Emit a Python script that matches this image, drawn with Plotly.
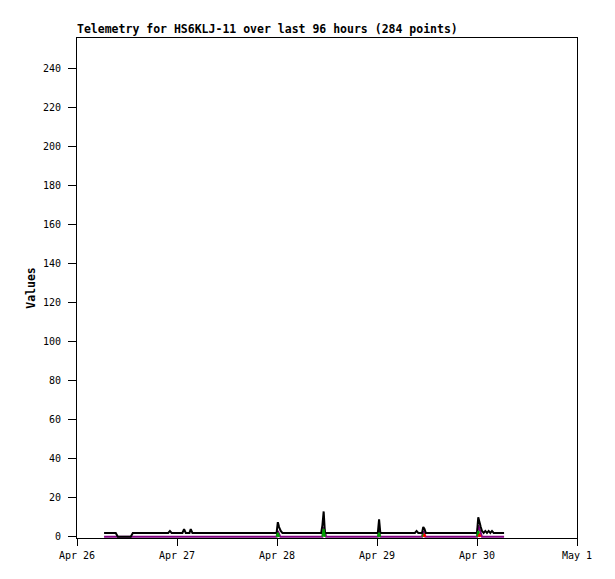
import pandas as pd
import plotly.graph_objects as go

# hours after Apr 26 00:00
black_hours = [6.5, 9.3, 9.8, 12.9, 13.4, 21.9, 22.3, 22.7, 25.3, 25.7, 26.1, 27.0, 27.3, 27.7,
               47.9, 48.2, 48.5, 48.9, 49.3, 58.6, 58.9, 59.2, 59.5, 72.2, 72.5, 72.8,
               81.1, 81.5, 81.9, 82.8, 83.1, 83.4, 83.7, 96.0, 96.3, 96.6, 96.9, 97.2, 97.6,
               98.0, 98.4, 98.8, 99.2, 99.6, 100.0, 102.5]
black_values = [2, 2, 0, 0, 2, 2, 3, 2, 2, 4, 2, 2, 4, 2,
                2, 7.5, 5, 3, 2, 2, 6, 13, 2, 2, 9, 2,
                2, 3, 2, 2, 5, 4, 2, 2, 10, 7, 5, 3, 2,
                3, 2, 3, 2, 3, 2, 2]

# green and red only show up around the spikes (None = gap)
green_hours = [47.9, 48.2, 48.5, None, 58.9, 59.2, 59.5, None, 72.2, 72.5, 72.8, None,
               82.8, 83.1, 83.4, None, 96.0, 96.3, 96.6]
green_values = [0, 2, 0, None, 0, 4, 0, None, 0, 2, 0, None, 0, 1, 0, None, 0, 3, 0]

red_hours = [83.1, 83.4, 83.7, None, 96.3, 96.6, 96.9]
red_values = [0, 1, 0, None, 0, 1, 0]

purple_hours = [6.5, 47.9, 48.2, 48.8, 58.9, 59.2, 59.8, 72.2, 72.5, 72.8, 82.8, 83.1, 83.6,
                96.0, 96.3, 97.2, 102.5]
purple_values = [0, 0, 3, 0, 0, 5, 0, 0, 3, 0, 0, 3, 0, 0, 6, 0, 0]

tick_labels = ["Apr 26", "Apr 27", "Apr 28", "Apr 29", "Apr 30", "May 1"]

start = pd.Timestamp("2024-04-26")


def to_time(hours):
    return [None if h is None else start + pd.Timedelta(hours=h) for h in hours]


fig = go.Figure()
for hours, values, color in [
    (purple_hours, purple_values, "purple"),
    (black_hours, black_values, "black"),
    (green_hours, green_values, "#00a000"),
    (red_hours, red_values, "red"),
]:
    fig.add_trace(go.Scatter(x=to_time(hours), y=values, mode="lines",
                             line=dict(color=color, width=2), showlegend=False))

font = "DejaVu Sans Mono, Liberation Mono, monospace"
# page body adds 8px, so the figure is 8px smaller each way
fig.update_layout(
    width=607, height=571,
    margin=dict(l=69, r=38, t=30, b=41, autoexpand=False),
    plot_bgcolor="white", paper_bgcolor="white",
    font=dict(family=font, size=10, color="black"),
    title=dict(text="<b>Telemetry for HS6KLJ-11 over last 96 hours (284 points)</b>",
               x=0, xanchor="left", xref="paper",
               y=1 - 25 / 571, yanchor="bottom", font=dict(size=11.5)),
)
fig.update_xaxes(
    range=[start, start + pd.Timedelta(days=5)],
    tickvals=[start + pd.Timedelta(days=i) for i in range(6)], ticktext=tick_labels,
    showgrid=False, zeroline=False, showline=True, linecolor="black", linewidth=1,
    mirror=True, ticks="outside", ticklen=7, tickcolor="black", automargin=False,
    ticklabelstandoff=1,
)
fig.update_yaxes(
    range=[-0.6, 255.5], tickvals=list(range(0, 241, 20)),
    showgrid=False, zeroline=False, showline=True, linecolor="black", linewidth=1,
    mirror=True, ticks="outside", ticklen=8, tickcolor="black", automargin=False,
    ticklabelstandoff=5,
    title=dict(text="<b>Values</b>", standoff=4, font=dict(size=11.5)),
)

fig.write_html("out.html")
